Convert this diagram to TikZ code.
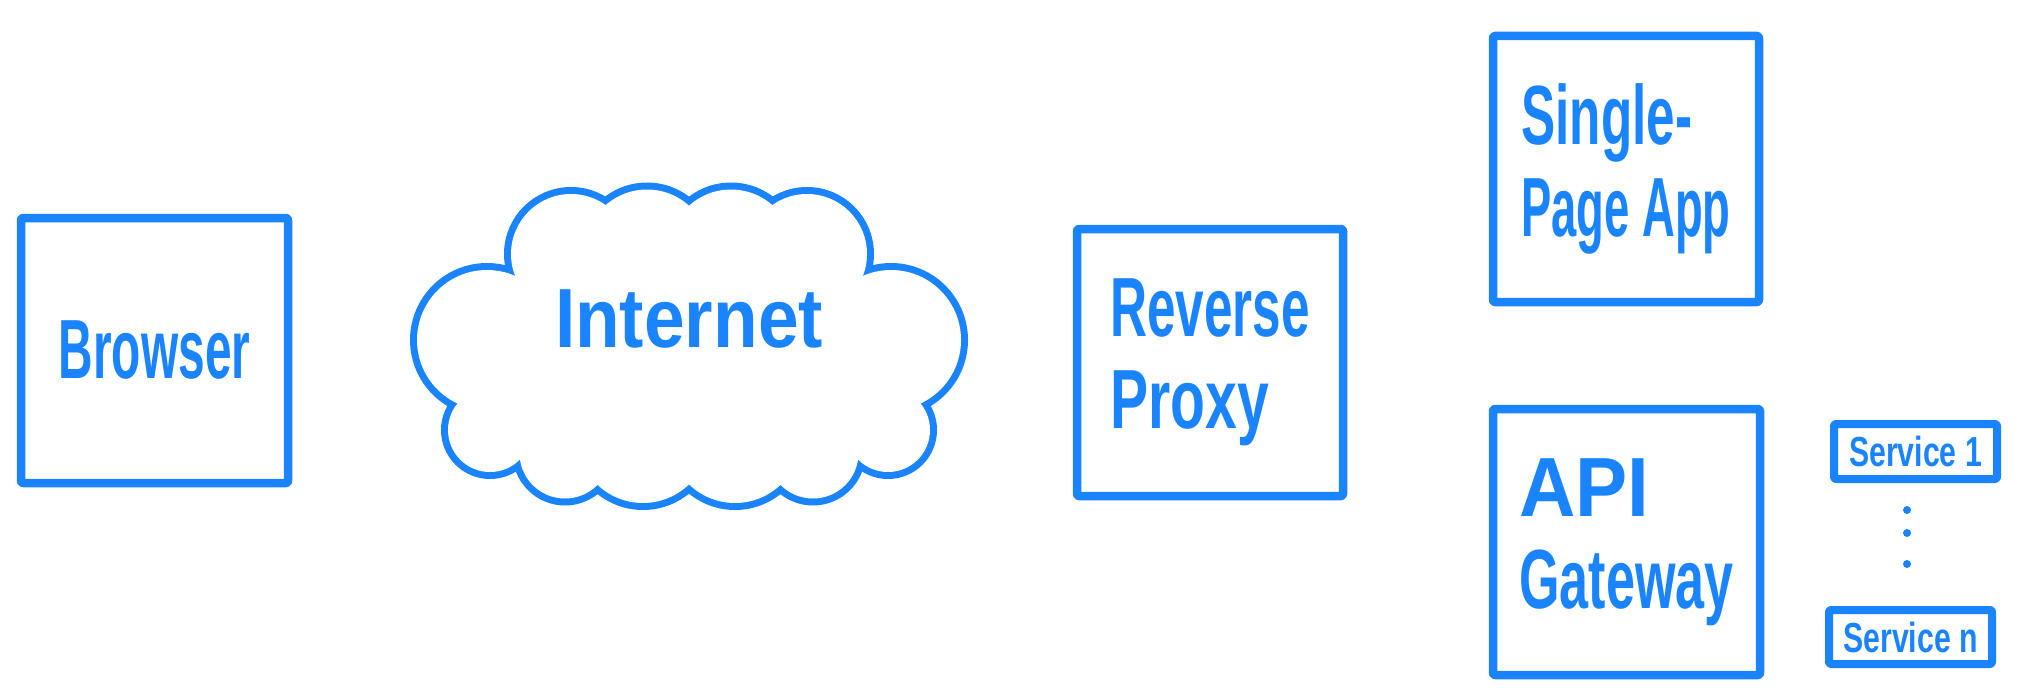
\documentclass[tikz,border=0pt]{standalone}
\usepackage{fontspec}
\setmainfont{Liberation Sans}
\usepackage{graphicx}
\usepackage{tikz}

\definecolor{penblue}{HTML}{1A84FF}
% squeezed hand lettering
\newcommand{\hw}[2][0.62]{\scalebox{#1}[1]{#2}}

\tikzset{
	ink/.style = {color=penblue, line cap=round, line join=round},
	handtext/.style = {ink, inner sep=0pt, align=left, font=\bfseries\fontsize{84}{92}\selectfont},
	box/.style = {handtext, draw, line width=8.5pt, rounded corners=2pt},
	smallbox/.style = {box, line width=8pt, font=\bfseries\fontsize{42}{50}\selectfont}
}

\begin{document}
\begin{tikzpicture}[x=1pt, y=-1pt]
	\fill[white] (0,0) rectangle (2020,698);
	\useasboundingbox (0,0) rectangle (2020,698);

	\node[box, minimum width=267pt, minimum height=265pt] (browser) at (154.5,350.5) {\hw[0.57]{Browser}};

	% cloud
	\def\puffs{487/340/70, 571/254/60, 647/252/62.5, 731/252/62.5, 807/254/60, 891/340/70,
		888/430/42, 813/453/45.5, 735/437/66, 643/437/66, 565/453/45.5, 490/430/42}
	\foreach \cx/\cy/\r in \puffs
	{
		\draw[ink, line width=14pt] (\cx,\cy) circle (\r);
	}
	\fill[white] (520,274) -- (609,208) -- (689,213) -- (771,208) -- (858,274) -- (915,403)
		-- (854,461) -- (776,481) -- (689,480) -- (603,481) -- (526,461) -- (463,403) -- cycle;
	\foreach \cx/\cy/\r in \puffs
	{
		\fill[white] (\cx,\cy) circle (\r);
	}
	\node[handtext] (internet) at (689,319) {\hw[0.87]{Internet}};

	\node[box, minimum width=266pt, minimum height=267pt] (proxy) at (1210,362.5) {\hw[0.61]{Reverse}\\\hw[0.68]{Proxy}};

	\node[box, minimum width=266pt, minimum height=266pt] (spa) at (1626,169) {\hw[0.61]{Single-}\\\hw[0.54]{Page App}};
	\node[box, minimum width=267pt, minimum height=266pt] (gateway) at (1626.5,542) {\hw[0.93]{API}\\\hw[0.62]{Gateway}};

	\node[smallbox, minimum width=163pt, minimum height=55pt] (service1) at (1915.5,451.5) {\hw[0.72]{Service 1}};
	\node[smallbox, minimum width=163pt, minimum height=54pt] (servicen) at (1910.5,637) {\hw[0.72]{Service n}};

	\foreach \y in {510,533,564}
	{
		\fill[ink] (1907,\y) circle (4);
	}
\end{tikzpicture}
\end{document}
